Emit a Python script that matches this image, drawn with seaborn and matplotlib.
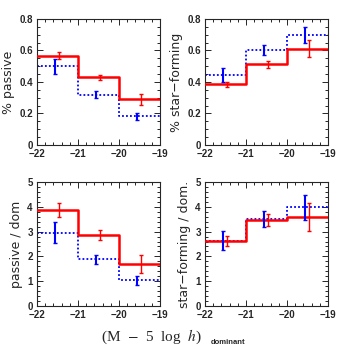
import numpy as np
import matplotlib
matplotlib.use("Agg")
import matplotlib.pyplot as plt
import seaborn as sns
from matplotlib.ticker import MultipleLocator, FuncFormatter

# bin edges in (M - 5 log h)_dominant
edges = [-22, -21, -20, -19]
centers = [-21.5, -20.5, -19.5]

# fraction passive
frac_pas_red = [0.568, 0.429, 0.290]
frac_pas_red_err = [0.021, 0.017, 0.034]
frac_pas_blue = [0.499, 0.320, 0.183]
frac_pas_blue_err = [0.047, 0.020, 0.023]

# fraction star-forming
frac_sf_red = [0.385, 0.512, 0.612]
frac_sf_red_err = [0.018, 0.020, 0.055]
frac_sf_blue = [0.445, 0.603, 0.697]
frac_sf_blue_err = [0.043, 0.030, 0.050]

# passive per dominant
pas_dom_red = [3.87, 2.87, 1.69]
pas_dom_red_err = [0.29, 0.19, 0.35]
pas_dom_blue = [2.96, 1.89, 1.03]
pas_dom_blue_err = [0.43, 0.18, 0.17]

# star-forming per dominant
sf_dom_red = [2.62, 3.45, 3.60]
sf_dom_red_err = [0.19, 0.24, 0.56]
sf_dom_blue = [2.64, 3.52, 3.98]
sf_dom_blue_err = [0.40, 0.32, 0.50]

sns.set_style("ticks")
plt.rcParams['font.family'] = ['Liberation Sans', 'DejaVu Sans']

fig = plt.figure(figsize=(3.46, 3.46), dpi=100)
W, H = 346.0, 346.0


def make_ax(x0, y0, x1, y1):
    return fig.add_axes([x0 / W, 1 - y1 / H, (x1 - x0) / W, (y1 - y0) / H])


def tick_fmt(v, pos):
    if abs(v) < 1e-9:
        return "0"
    if abs(v - round(v)) < 1e-9:
        return "\u2212%d" % abs(round(v)) if v < 0 else "%d" % round(v)
    return "%.1f" % v


def panel(ax, red, red_err, blue, blue_err, ymax, ymajor, yminor, ylabel):
    sns.lineplot(x=edges, y=list(red) + [red[-1]], ax=ax, color="red", lw=1.8,
                 drawstyle="steps-post", zorder=3)
    sns.lineplot(x=edges, y=list(blue) + [blue[-1]], ax=ax, color="blue", lw=1.3,
                 drawstyle="steps-post", linestyle=(0, (1, 1.2)), zorder=2)
    ax.errorbar(np.array(centers) - 0.05, blue, yerr=blue_err, fmt="none",
                ecolor="blue", elinewidth=1.5, capsize=1.5, capthick=1.0, zorder=4)
    ax.errorbar(np.array(centers) + 0.03, red, yerr=red_err, fmt="none",
                ecolor="red", elinewidth=1.0, capsize=1.5, capthick=1.0, zorder=5)
    ax.set_xlim(-22, -19)
    ax.set_ylim(0, ymax)
    ax.xaxis.set_major_locator(MultipleLocator(1))
    ax.xaxis.set_minor_locator(MultipleLocator(0.2))
    ax.yaxis.set_major_locator(MultipleLocator(ymajor))
    ax.yaxis.set_minor_locator(MultipleLocator(yminor))
    ax.xaxis.set_major_formatter(FuncFormatter(tick_fmt))
    ax.yaxis.set_major_formatter(FuncFormatter(tick_fmt))
    ax.tick_params(which="both", direction="in", top=True, right=True, width=0.7)
    ax.tick_params(which="major", length=4, labelsize=7, pad=3)
    ax.tick_params(which="minor", length=2)
    ax.set_ylabel(ylabel, fontsize=9, family="DejaVu Sans", labelpad=3)
    ax.set_xlabel("")
    for s in ax.spines.values():
        s.set_linewidth(0.8)


ax1 = make_ax(37, 19, 160, 145)
panel(ax1, frac_pas_red, frac_pas_red_err, frac_pas_blue, frac_pas_blue_err,
      0.8, 0.2, 0.05, "% passive")

ax2 = make_ax(205, 19, 328, 145)
panel(ax2, frac_sf_red, frac_sf_red_err, frac_sf_blue, frac_sf_blue_err,
      0.8, 0.2, 0.05, "% star\u2212forming")

ax3 = make_ax(37, 182, 160, 306)
panel(ax3, pas_dom_red, pas_dom_red_err, pas_dom_blue, pas_dom_blue_err,
      5, 1, 0.2, "passive / dom")

ax4 = make_ax(205, 182, 328, 306)
panel(ax4, sf_dom_red, sf_dom_red_err, sf_dom_blue, sf_dom_blue_err,
      5, 1, 0.2, "star\u2212forming / dom.")

fig.text(151 / W, 1 - 337 / H, r"(M  $-$  5  log  $h$)", ha="center", va="center",
         fontsize=11, family="Liberation Serif", math_fontfamily="stix")
fig.text(228 / W, 1 - 342 / H, "dominant", ha="center", va="center",
         fontsize=5.5, fontweight="bold")

for ax in fig.axes:
    for lab in ax.get_xticklabels() + ax.get_yticklabels():
        lab.set_fontweight("bold")

fig.savefig("out.png", dpi=100, facecolor="white")
